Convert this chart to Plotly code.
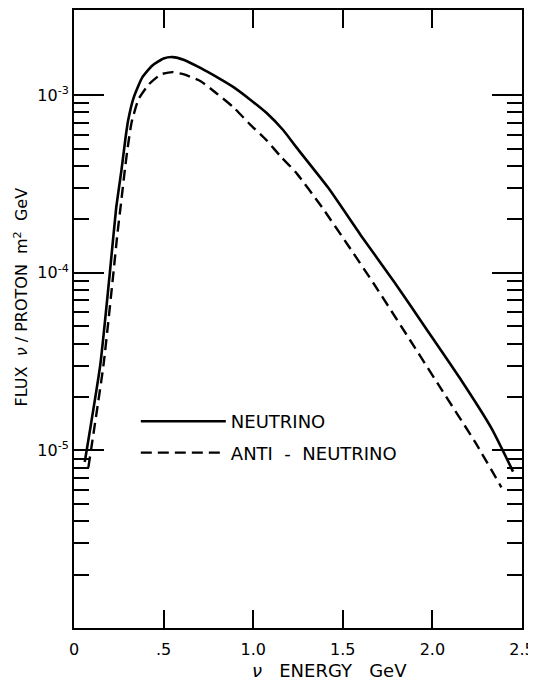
import plotly.graph_objects as go

# Data
nu_energy = [0.06, 0.147, 0.20, 0.235, 0.265, 0.288, 0.302, 0.333, 0.381, 0.4375, 0.50, 0.55,
             0.615, 0.708, 0.80, 0.89, 0.98, 1.075, 1.167, 1.24, 1.42, 1.60, 1.79, 1.97,
             2.15, 2.33, 2.45]
nu_flux = [8.6e-6, 3.05e-5, 1.0e-4, 2.3e-4, 3.8e-4, 5.8e-4, 7.2e-4, 9.7e-4, 1.26e-3, 1.47e-3,
           1.61e-3, 1.64e-3, 1.58e-3, 1.42e-3, 1.26e-3, 1.11e-3, 9.5e-4, 7.94e-4, 6.37e-4,
           5.1e-4, 3.0e-4, 1.63e-4, 8.8e-5, 4.77e-5, 2.58e-5, 1.33e-5, 7.6e-6]

anti_energy = [0.08, 0.165, 0.220, 0.242, 0.265, 0.285, 0.300, 0.321, 0.360, 0.417, 0.484,
               0.549, 0.614, 0.707, 0.798, 0.890, 0.982, 1.073, 1.155, 1.237, 1.384, 1.529,
               1.674, 1.874, 2.055, 2.237, 2.385]
anti_flux = [8.0e-6, 3.05e-5, 1.0e-4, 1.65e-4, 2.6e-4, 3.9e-4, 5.1e-4, 7.0e-4, 9.5e-4,
             1.15e-3, 1.31e-3, 1.35e-3, 1.31e-3, 1.2e-3, 1.02e-3, 8.55e-4, 6.86e-4, 5.6e-4,
             4.5e-4, 3.69e-4, 2.34e-4, 1.43e-4, 8.65e-5, 4.2e-5, 2.17e-5, 1.12e-5, 6.2e-6]

series_names = ["NEUTRINO", "ANTI\u00a0\u00a0-\u00a0\u00a0NEUTRINO"]

x_tickvals = [0, 0.5, 1.0, 1.5, 2.0, 2.5]
x_ticktext = ["0", ".5", "1.0", "1.5", "2.0", "2.5"]
y_tickvals = [1e-5, 1e-4, 1e-3]
y_ticktext = ["10<sup>-5</sup>", "10<sup>-4</sup>", "10<sup>-3</sup>"]
y_minor_vals = [m * 10.0 ** e for e in (-6, -5, -4) for m in range(2, 10)]

FONT = "DejaVu Sans"

fig = go.Figure()
fig.add_trace(go.Scatter(
    x=nu_energy, y=nu_flux, mode="lines", name=series_names[0], legendgroup="a",
    line=dict(color="black", width=2.6, shape="spline", smoothing=0.5),
))
fig.add_trace(go.Scatter(
    x=anti_energy, y=anti_flux, mode="lines", name=series_names[1], legendgroup="b",
    line=dict(color="black", width=2.4, dash="11px,6px", shape="spline", smoothing=0.5),
))

# page body adds an 8px offset, so the figure is sized to fit the 536x681 window
fig.update_layout(
    width=528, height=673,
    margin=dict(l=66, r=14, t=2, b=53, autoexpand=False),
    paper_bgcolor="white", plot_bgcolor="white",
    font=dict(family=FONT, color="black", size=15),
    showlegend=True,
    legend=dict(
        x=0.138, y=0.364, xanchor="left", yanchor="top",
        bgcolor="rgba(0,0,0,0)", borderwidth=0,
        itemwidth=85, tracegroupgap=5,
        font=dict(family=FONT, size=18, color="black"),
    ),
    xaxis=dict(
        range=[0, 2.5], tickmode="array", tickvals=x_tickvals, ticktext=x_ticktext,
        ticks="inside", ticklen=18, tickwidth=2, tickcolor="black",
        showline=True, linewidth=2, linecolor="black", mirror="ticks",
        showgrid=False, zeroline=False, ticklabelstandoff=6, automargin=False,
        tickfont=dict(family=FONT, size=16),
    ),
    yaxis=dict(
        type="log", range=[-6, -2.52], tickmode="array", tickvals=y_tickvals,
        ticktext=y_ticktext, automargin=False,
        ticks="inside", ticklen=30, tickwidth=2, tickcolor="black",
        showline=True, linewidth=2, linecolor="black", mirror="ticks",
        showgrid=False, zeroline=False,
        tickfont=dict(family=FONT, size=16),
        minor=dict(tickmode="array", tickvals=y_minor_vals, ticks="inside",
                   ticklen=15, tickwidth=2, tickcolor="black", showgrid=False),
    ),
    annotations=[
        dict(text="<i>ν</i>\u00a0\u00a0\u00a0ENERGY\u00a0\u00a0\u00a0GeV", xref="paper", yref="paper",
             x=0.57, y=-0.048, xanchor="center", yanchor="top", showarrow=False,
             font=dict(family=FONT, size=18, color="black")),
        dict(text="FLUX\u00a0\u00a0<i>ν</i> / PROTON\u00a0\u00a0m<sup>2</sup>\u00a0\u00a0GeV",
             xref="paper", yref="paper",
             x=-0.118, y=0.535, xanchor="center", yanchor="middle", showarrow=False,
             textangle=-90, font=dict(family=FONT, size=16, color="black")),
    ],
)

fig.write_html("out.html")
